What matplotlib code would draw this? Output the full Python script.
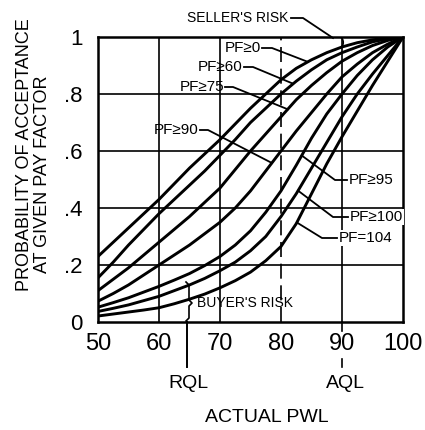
import numpy as np
import matplotlib.pyplot as plt
from matplotlib.patches import Arc

plt.rcParams["font.family"] = ["Liberation Sans", "DejaVu Sans"]

# actual PWL (x) and probability of acceptance for each pay-factor curve
pwl = [50, 52.5, 55, 57.5, 60, 62.5, 65, 67.5, 70, 72.5, 75,
       77.5, 80, 82.5, 85, 87.5, 90, 92.5, 95, 97.5, 100]
pf_0 = [0.23, 0.28, 0.33, 0.38, 0.43, 0.485, 0.54, 0.59, 0.64, 0.695, 0.75,
        0.80, 0.85, 0.89, 0.92, 0.945, 0.965, 0.98, 0.99, 0.997, 1.0]
pf_60 = [0.155, 0.21, 0.27, 0.325, 0.38, 0.43, 0.48, 0.53, 0.585, 0.64, 0.70,
         0.75, 0.80, 0.845, 0.885, 0.92, 0.945, 0.965, 0.983, 0.994, 1.0]
pf_75 = [0.11, 0.15, 0.19, 0.235, 0.28, 0.325, 0.37, 0.42, 0.47, 0.535, 0.60,
         0.66, 0.72, 0.78, 0.83, 0.875, 0.915, 0.945, 0.97, 0.988, 1.0]
pf_90 = [0.073, 0.10, 0.13, 0.165, 0.20, 0.235, 0.27, 0.31, 0.35, 0.40, 0.46,
         0.53, 0.60, 0.67, 0.735, 0.80, 0.86, 0.905, 0.945, 0.975, 1.0]
pf_95 = [0.052, 0.068, 0.085, 0.105, 0.125, 0.147, 0.17, 0.198, 0.23, 0.27, 0.32,
         0.385, 0.46, 0.55, 0.645, 0.73, 0.80, 0.865, 0.92, 0.965, 1.0]
pf_100 = [0.037, 0.048, 0.06, 0.075, 0.09, 0.11, 0.13, 0.153, 0.18, 0.21, 0.25,
          0.30, 0.37, 0.45, 0.54, 0.63, 0.72, 0.80, 0.87, 0.935, 1.0]
pf_104 = [0.021, 0.028, 0.035, 0.042, 0.05, 0.064, 0.08, 0.098, 0.12, 0.145, 0.175,
          0.215, 0.265, 0.345, 0.45, 0.555, 0.65, 0.74, 0.83, 0.915, 1.0]

curves = [pf_0, pf_60, pf_75, pf_90, pf_95, pf_100, pf_104]
curve_labels = ["PF≥0", "PF≥60", "PF≥75", "PF≥90", "PF≥95", "PF≥100", "PF=104"]
x_ticks = [50, 60, 70, 80, 90, 100]
y_ticks = [0, 0.2, 0.4, 0.6, 0.8, 1.0]
y_ticklabels = ["0", ".2", ".4", ".6", ".8", "1"]
rql = 64.6
aql = 90

W, H = 425, 430
fig = plt.figure(figsize=(W / 100, H / 100), dpi=100)
ax = fig.add_axes([98 / W, 1 - 322 / H, 305 / W, 285 / H])


def to_data(px, py):
    # pixel position on the picture -> data coordinates
    return 50 + (px - 98) / 6.1, (322 - py) / 285


def on_curve(i, x):
    return x, float(np.interp(x, pwl, curves[i]))


ax.set_xlim(50, 100)
ax.set_ylim(0, 1)
for s in ax.spines.values():
    s.set_linewidth(1.8)

# grid
for g in [60, 70, 90]:
    ax.axvline(g, color="black", lw=1.2, zorder=1)
ax.axvline(80, color="black", lw=1.2, ls=(0, (9, 4)), zorder=1)
for g in [0.2, 0.4, 0.6, 0.8]:
    ax.axhline(g, color="black", lw=1.2, zorder=1)

for c in curves:
    ax.plot(pwl, c, color="black", lw=2.1, solid_capstyle="round",
            solid_joinstyle="round", zorder=3)

ax.set_xticks(x_ticks)
ax.set_xticklabels([str(t) for t in x_ticks], fontsize=17)
ax.set_yticks(y_ticks)
ax.set_yticklabels(y_ticklabels, fontsize=16)
ax.tick_params(axis="x", length=0, pad=8)
ax.tick_params(axis="y", length=0, pad=11)

# RQL / AQL markers below the axis
ax.plot([rql, rql], [0, to_data(0, 367)[1]], color="black", lw=1.4, clip_on=False)
ax.plot([aql, aql], [0, to_data(0, 331)[1]], color="black", lw=1.2, clip_on=False)
ax.plot([aql, aql], [to_data(0, 359)[1], to_data(0, 367)[1]], color="black", lw=1.2, clip_on=False)

# left-hand labels with leaders
left_labels = [
    (0, (243, 48), (262, 48), (272, 48), 84.4),
    (1, (220, 67), (244, 67), (253, 67), 82.0),
    (2, (202, 87), (225, 87), (233, 87), 81.1),
    (3, (176, 130), (200, 130), (208, 130), 78.5),
]
for i, tpos, p1, p2, xe in left_labels:
    tx, ty = to_data(*tpos)
    ax.text(tx, ty, curve_labels[i], fontsize=11, ha="center", va="center", zorder=5)
    a, b = to_data(*p1), to_data(*p2)
    e = on_curve(i, xe)
    ax.plot([a[0], b[0], e[0]], [a[1], b[1], e[1]], color="black", lw=1.3, zorder=4, clip_on=False)

# right-hand labels with leaders
right_labels = [
    (4, (349, 180), (347, 180), (335, 180), 83.4),
    (5, (350, 217), (348, 217), (333, 217), 82.8),
    (6, (339, 238), (337, 238), (322, 238), 82.6),
]
for i, tpos, p1, p2, xe in right_labels:
    tx, ty = to_data(*tpos)
    ax.text(tx, ty, curve_labels[i], fontsize=11, ha="left", va="center", zorder=5,
            bbox=dict(facecolor="white", edgecolor="none", pad=0.5))
    a, b = to_data(*p1), to_data(*p2)
    e = on_curve(i, xe)
    ax.plot([a[0], b[0], e[0]], [a[1], b[1], e[1]], color="black", lw=1.3, zorder=4, clip_on=False)

# seller's risk
tx, ty = to_data(238, 18)
ax.text(tx, ty, "SELLER'S RISK", fontsize=10, ha="center", va="center", clip_on=False)
a, b, c = to_data(291, 18), to_data(303, 18), to_data(333, 38)
ax.plot([a[0], b[0], c[0]], [a[1], b[1], c[1]], color="black", lw=1.3, clip_on=False)
sx, sy = on_curve(0, 89.6)
ax.add_patch(Arc((sx, (1 + sy) / 2), 1.2, 1 - sy, theta1=-90, theta2=90, color="black", lw=1.2))

# buyer's risk brace at RQL
brace = [to_data(px, py) for px, py in
         [(186, 282), (189, 285), (189, 300), (192, 303), (189, 306), (189, 318), (186, 321)]]
ax.plot([p[0] for p in brace], [p[1] for p in brace], color="black", lw=1.2, zorder=4)
tx, ty = to_data(245, 303)
ax.text(tx, ty, "BUYER'S RISK", fontsize=10, ha="center", va="center", zorder=5)

# axis titles
fig.text(25 / W, 1 - 155 / H, "PROBABILITY OF ACCEPTANCE", rotation=90, fontsize=13,
         ha="center", va="center")
fig.text(43 / W, 1 - 174 / H, "AT GIVEN PAY FACTOR", rotation=90, fontsize=13,
         ha="center", va="center")
fig.text(267 / W, 1 - 418 / H, "ACTUAL PWL", fontsize=14, ha="center", va="center")
fig.text(188 / W, 1 - 384 / H, "RQL", fontsize=14, ha="center", va="center")
fig.text(345 / W, 1 - 384 / H, "AQL", fontsize=14, ha="center", va="center")

fig.savefig("out.png", dpi=100, facecolor="white")
